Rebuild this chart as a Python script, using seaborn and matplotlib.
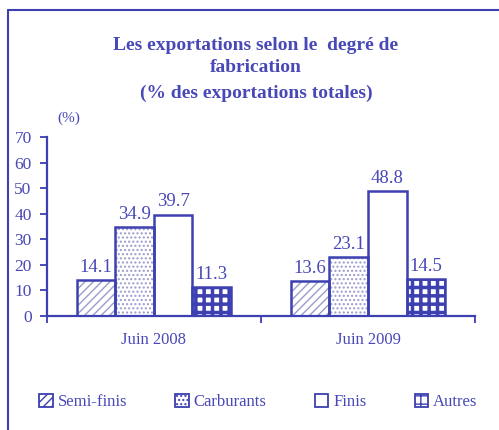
import pandas as pd
import matplotlib.pyplot as plt
import seaborn as sns
from matplotlib.patches import Rectangle
from matplotlib.lines import Line2D

# ===============================
# DATA
# ===============================
periods = ["Juin 2008", "Juin 2009"]
kinds = ["Semi-finis", "Carburants", "Finis", "Autres"]
semi_finis = [14.1, 13.6]
carburants = [34.9, 23.1]
finis = [39.7, 48.8]
autres = [11.3, 14.5]
title_lines = ["Les exportations selon le  degré de", "fabrication",
               "(% des exportations totales)"]

rows = []
for kind, vals in zip(kinds, [semi_finis, carburants, finis, autres]):
    for p, v in zip(periods, vals):
        rows.append({"period": p, "kind": kind, "value": v})
df = pd.DataFrame(rows)

# ===============================
# STYLE
# ===============================
BLUE = "#3c40b0"
TXT = "#4848b8"
LIGHT = "#9a9ccc"

sns.set_style("white")
plt.rcParams["font.family"] = ["Liberation Serif", "DejaVu Serif"]

fig = plt.figure(figsize=(4.99, 4.30), dpi=100)
ax = fig.add_axes([0.094, 0.265, 0.858, 0.416])

sns.barplot(data=df, x="period", y="value", hue="kind", order=periods,
            hue_order=kinds, width=0.72, ax=ax, legend=False,
            palette=["white"] * 4, saturation=1)

hatches = ["////", "....", "", "++"]
hatch_cols = [LIGHT, LIGHT, BLUE, BLUE]
for cont, h, hc in zip(ax.containers, hatches, hatch_cols):
    for bar in cont:
        bar.set_facecolor("white")
        bar.set_edgecolor(hc)
        bar.set_hatch(h)
        bar.set_linewidth(0)
        if h == "++" and hasattr(bar, "set_hatch_linewidth"):
            bar.set_hatch_linewidth(2.5)
        ax.add_patch(Rectangle((bar.get_x(), bar.get_y()), bar.get_width(),
                               bar.get_height(), facecolor="none",
                               edgecolor=BLUE, linewidth=1.8, zorder=3))
    ax.bar_label(cont, fmt="%.1f", padding=3, fontsize=13.5, color=TXT)

# axes
ax.set_ylim(0, 70)
ax.set_xlim(-0.5, 1.5)
ax.set_yticks(range(0, 71, 10))
ax.set_xlabel("")
ax.set_ylabel("")
for s in ["top", "right"]:
    ax.spines[s].set_visible(False)
for s in ["left", "bottom"]:
    ax.spines[s].set_color(BLUE)
    ax.spines[s].set_linewidth(1.6)
ax.tick_params(axis="y", left=True, direction="out", length=5, width=1.3,
               color=BLUE, labelcolor=TXT, labelsize=12.5, pad=6)
ax.tick_params(axis="x", which="major", bottom=False, labelcolor=TXT,
               labelsize=12, pad=8)
ax.set_xticks([-0.5, 0.5, 1.5], minor=True)
ax.tick_params(axis="x", which="minor", bottom=True, direction="out",
               length=5, width=1.3, color=BLUE)

# title and unit
for txt, yy in zip(title_lines, [45, 68, 93]):
    fig.text(0.513, 1 - yy / 430, txt, ha="center", va="center",
             fontsize=14, fontweight="bold", color=TXT)
fig.text(0.137, 1 - 118 / 430, "(%)", ha="center", va="center",
         fontsize=11, color=TXT)

# legend
handles = []
for h, hc in zip(hatches, hatch_cols):
    handles.append(Rectangle((0, 0), 1, 1, facecolor="white", edgecolor=BLUE,
                             hatch=h, linewidth=1.3))
fig.legend(handles, kinds, loc="center", bbox_to_anchor=(0.518, 1 - 402 / 430),
           ncol=4, frameon=False, handlelength=0.8, handleheight=0.8,
           handletextpad=0.3, columnspacing=2.9, fontsize=12,
           labelcolor=TXT)

# frame around the figure
fig.add_artist(Line2D([8 / 499, 1.0], [1 - 10 / 430] * 2,
                      transform=fig.transFigure, color=BLUE, lw=1.5))
fig.add_artist(Line2D([8 / 499] * 2, [0, 1 - 10 / 430],
                      transform=fig.transFigure, color=BLUE, lw=1.5))

fig.savefig("out.png", dpi=100)
